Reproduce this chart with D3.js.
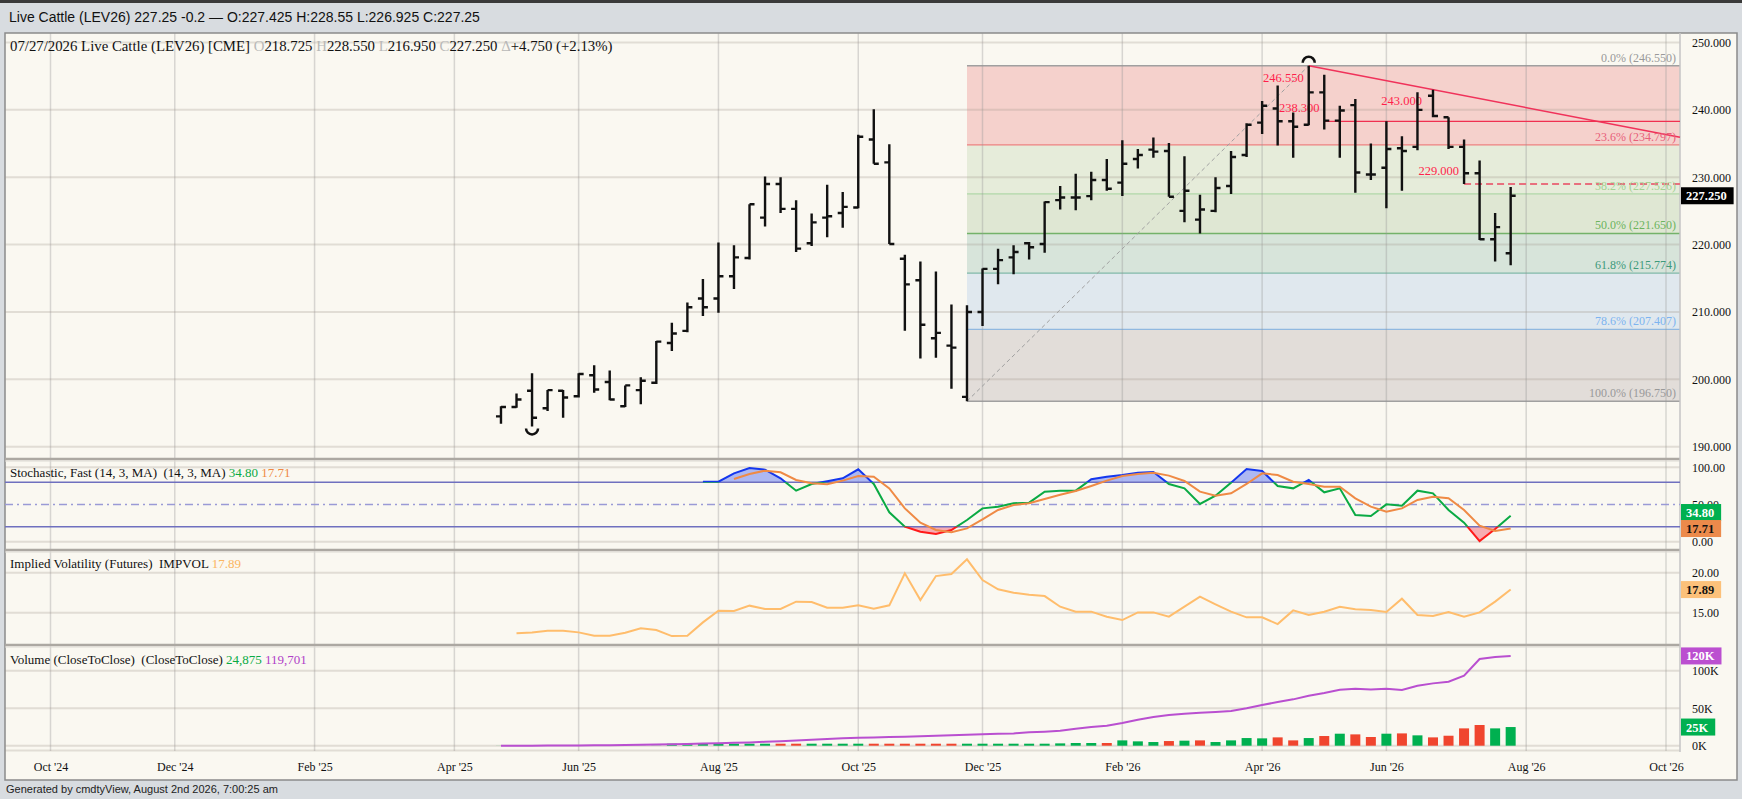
<!DOCTYPE html>
<html>
<head>
<meta charset="utf-8">
<script src="https://cdn.jsdelivr.net/npm/d3@7"></script>
<style>
  body { margin: 0; background: #d8dce0; }
  svg { display: block; }
</style>
</head>
<body>
<div id="chart"></div>
<script>
// ---- data (weekly bars) ----
var weeks = ["2025-04-28","2025-05-05","2025-05-12","2025-05-19","2025-05-26","2025-06-02","2025-06-09","2025-06-16","2025-06-23","2025-06-30",
  "2025-07-07","2025-07-14","2025-07-21","2025-07-28","2025-08-04","2025-08-11","2025-08-18","2025-08-25","2025-09-01","2025-09-08",
  "2025-09-15","2025-09-22","2025-09-29","2025-10-06","2025-10-13","2025-10-20","2025-10-27","2025-11-03","2025-11-10","2025-11-17",
  "2025-11-24","2025-12-01","2025-12-08","2025-12-15","2025-12-22","2025-12-29","2026-01-05","2026-01-12","2026-01-19","2026-01-26",
  "2026-02-02","2026-02-09","2026-02-16","2026-02-23","2026-03-02","2026-03-09","2026-03-16","2026-03-23","2026-03-30","2026-04-06",
  "2026-04-13","2026-04-20","2026-04-27","2026-05-04","2026-05-11","2026-05-18","2026-05-25","2026-06-01","2026-06-08","2026-06-15",
  "2026-06-22","2026-06-29","2026-07-06","2026-07-13","2026-07-20","2026-07-27"];

var opens = [194.5,195.9,198.3,195.7,198.3,197.5,200.6,199.6,196.0,198.4,
  199.5,205.4,207.2,212.0,212.0,215.3,218.0,224.0,229.0,225.3,
  220.2,224.0,224.7,225.5,235.6,232.2,217.9,214.7,206.1,205.0,
  197.4,210.0,216.4,218.1,220.2,220.1,226.6,227.0,227.2,229.6,
  229.2,232.7,234.1,233.9,225.0,223.7,225.0,228.7,233.3,238.1,
  240.2,238.3,237.8,242.6,238.4,240.7,230.4,231.4,234.3,234.5,
  242.1,238.9,234.5,230.6,220.8,218.725];
var highs = [196.0,197.9,200.9,198.4,198.4,200.9,202.1,201.3,199.1,200.3,
  205.7,208.4,211.4,214.9,220.3,219.9,226.0,230.1,230.0,226.6,
  224.6,228.9,227.8,236.3,240.1,234.9,218.5,217.5,216.0,211.1,
  211.0,216.45,219.4,219.9,220.4,226.4,228.7,230.5,230.8,232.7,
  235.5,234.2,235.9,235.1,233.1,227.4,230.0,233.9,238.0,241.3,
  243.6,239.6,246.55,245.2,240.6,241.6,235.0,238.3,236.1,242.6,
  243.0,238.9,235.6,232.5,224.7,228.55];
var lows = [193.4,195.8,193.0,195.3,194.3,197.3,198.0,196.9,195.9,196.3,
  199.3,204.2,207.0,209.4,209.9,213.4,217.8,222.7,224.7,218.9,
  219.8,221.1,222.5,225.4,232.0,220.1,207.2,203.1,203.2,198.6,
  196.75,207.9,214.1,215.6,217.8,218.8,225.2,225.1,226.6,228.0,
  227.2,231.3,232.9,227.1,223.3,221.65,224.8,227.5,233.0,236.4,
  234.7,232.9,237.7,237.1,232.9,227.7,229.6,225.4,228.0,234.0,
  238.9,234.2,229.0,220.7,217.5,216.95];
var closes = [195.9,197.0,194.3,198.4,197.3,200.8,198.5,197.0,199.1,199.8,
  205.6,206.8,210.7,210.7,215.3,218.1,226.0,229.0,225.3,219.4,
  223.3,224.2,225.6,236.0,232.0,220.1,214.1,208.1,206.9,204.7,
  210.0,216.4,217.7,218.9,219.6,226.3,227.0,227.0,229.6,228.3,
  232.0,233.3,233.8,227.1,228.0,225.2,228.4,233.0,237.8,240.6,
  238.3,237.5,242.6,238.4,239.9,230.7,230.4,234.2,233.9,240.0,
  239.1,234.5,230.6,220.8,222.6,227.25];

// Stochastic fast %K / %D (null before the indicator starts)
var stochK = [null,null,null,null,null,null,null,null,null,null,
  null,null,null,80.7,80.7,91.9,99.1,96.9,85.2,68.6,
  77.6,81.2,85.2,97.3,77.6,39.5,20.2,13.5,10.3,15.7,
  29.1,44.8,47.1,51.6,52.5,67.3,68.6,68.6,83.9,87.4,
  89.7,92.8,93.7,77.6,71.7,50.7,61.9,79.4,97.8,95.1,
  74.9,71.7,83.0,66.4,71.7,35.9,34.5,50.2,48.4,68.6,
  65.0,42.6,25.6,0.9,17.0,34.8];
var stochD = [null,null,null,null,null,null,null,null,null,null,
  null,null,null,null,null,84.3,91.0,95.5,93.3,83.0,
  78.5,77.1,82.1,88.3,87.4,71.7,44.8,25.6,15.7,12.6,
  17.9,30.0,42.6,49.3,51.6,57.4,63.2,68.2,74.9,82.1,
  88.3,91.0,92.8,88.8,81.6,67.3,61.9,65.0,77.6,91.9,
  89.7,80.7,77.6,74.0,74.0,58.3,47.1,40.4,44.8,56.1,
  60.5,58.3,42.6,21.5,14.3,17.71];

// Implied volatility
var impVol = [null,12.42,12.54,12.75,12.75,12.54,12.13,12.13,12.5,13.04,
  12.83,12.08,12.13,13.79,15.25,15.21,15.88,15.46,15.46,16.38,
  16.33,15.63,15.63,15.92,15.5,15.92,19.92,16.58,19.58,19.83,
  21.67,19.08,17.92,17.5,17.25,17.08,15.75,15.13,15.13,14.5,
  14.08,15.04,15.04,14.5,15.75,17.0,16.04,15.13,14.42,14.42,
  13.58,15.29,14.71,15.13,15.75,15.42,15.33,15.08,16.75,14.71,
  14.58,15.08,14.5,15.04,16.38,17.89];

// Volume and open interest (thousands)
var volumeK = [0.1,0.1,0.1,0.1,0.1,0.1,0.1,0.1,0.1,0.1,
  0.2,0.4,0.4,0.4,0.4,0.4,0.4,0.4,0.6,0.6,
  0.6,0.6,0.6,1.8,1.0,1.0,1.0,1.0,1.0,1.0,
  2.2,1.0,1.0,0.9,0.9,2.2,3.1,3.6,3.6,3.6,
  7.1,5.8,4.9,6.2,6.7,7.1,4.9,7.1,10.2,9.8,
  11.1,7.1,10.2,12.9,16.0,15.1,11.6,16.0,16.4,13.8,
  11.1,13.3,23.1,27.6,23.1,24.875];
var openIntK = [0,0.1,0.1,0.2,0.3,0.4,0.5,0.7,0.9,1.2,
  1.6,2.0,2.4,2.8,3.3,3.8,4.4,5.2,6.0,7.0,
  8.0,9.0,9.8,10.5,11.0,11.5,12.0,12.5,13.2,13.9,
  14.6,15.2,16.0,16.4,17.8,18.7,20.0,22.7,24.9,26.7,
  30.2,34.7,38.2,40.9,42.7,44.0,44.9,46.2,49.8,54.2,
  58.2,61.8,66.7,70.2,74.7,76.0,75.1,76.0,74.2,80.0,
  83.1,85.3,93.3,115.6,118.2,119.701];

var fibPcts = ["0.0%","23.6%","38.2%","50.0%","61.8%","78.6%","100.0%"];
var fibLevels = [246.550,234.797,227.526,221.650,215.774,207.407,196.750];

var tickWeeks = ["2024-10-07","2024-12-02","2025-02-03","2025-04-07","2025-06-02","2025-08-04","2025-10-06",
  "2025-12-01","2026-02-02","2026-04-06","2026-06-01","2026-08-03","2026-10-05"];
var priceTicks = [190,200,210,220,230,240,250];
var stochTicks = [0,50,100];
var ivTicks = [15,20];
var volTicks = [0,50,100];

// ---- layout ----
var W = 1742, H = 799;
var plotL = 5, plotR = 1680, frameR = 1737;
var frameT = 33, frameB = 780;
var serif = "'Liberation Serif', 'Times New Roman', serif";
var sans = "'Liberation Sans', Arial, sans-serif";

var parse = d3.timeParse("%Y-%m-%d");
var dates = weeks.map(parse);
var tickDates = tickWeeks.map(parse);

var x = d3.scaleTime()
  .domain([parse("2024-10-07"), parse("2026-10-05")])
  .range([50.5, 1666]);

var yPrice = d3.scaleLinear().domain([190, 250]).range([446.7, 42.5]);
var yStoch = d3.scaleLinear().domain([0, 100]).range([541.7, 467.3]);
var yIV = d3.scaleLinear().domain([15, 20]).range([612.7, 572.7]);
var yVol = d3.scaleLinear().domain([0, 100]).range([745.7, 670.7]);

var svg = d3.select("#chart").append("svg")
  .attr("width", W).attr("height", H);

// bands
svg.append("rect").attr("width", W).attr("height", H).attr("fill", "#d8dce0");
svg.append("rect").attr("width", W).attr("height", 3).attr("fill", "#3a3a3a");
svg.append("rect")
  .attr("x", plotL).attr("y", frameT)
  .attr("width", frameR - plotL).attr("height", frameB - frameT)
  .attr("fill", "#faf8f1").attr("stroke", "#8a8a8a").attr("stroke-width", 1.5);

// header + footer
svg.append("text").attr("x", 9).attr("y", 22)
  .attr("font-family", sans).attr("font-size", 14).attr("fill", "#111")
  .text("Live Cattle (LEV26) 227.25 -0.2 \u2014 O:227.425 H:228.55 L:226.925 C:227.25");
svg.append("text").attr("x", 6).attr("y", 793)
  .attr("font-family", sans).attr("font-size", 11).attr("fill", "#222")
  .text("Generated by cmdtyView, August 2nd 2026, 7:00:25 am");

// ---- fib zones (behind grid) ----
var fibFill = ["#f5d1cc","#e6ecda","#dfe7d3","#d7e4da","#e0e8ee","#e2ddd9"];
var fibLine = ["#a0a0a0","#ee8080","#b0d8a8","#74b26a","#80b8a8","#90b8e0","#a0a0a0"];
var fibText = ["#999999","#e8607a","#a3d293","#6cb45e","#3e9a7a","#7db4f0","#999999"];
var fibX0 = x(dates[30]);

var fib = svg.append("g");
fibLevels.slice(0, -1).forEach(function(lv, k) {
  fib.append("rect")
    .attr("x", fibX0).attr("y", yPrice(lv))
    .attr("width", plotR - fibX0)
    .attr("height", yPrice(fibLevels[k + 1]) - yPrice(lv))
    .attr("fill", fibFill[k]);
});

// ---- grid ----
var grid = svg.append("g");
grid.selectAll(".vg").data(tickDates).enter().append("line")
  .attr("x1", function(d) { return x(d); }).attr("x2", function(d) { return x(d); })
  .attr("y1", frameT).attr("y2", 751)
  .attr("stroke", "rgba(150,150,150,0.35)").attr("stroke-width", 1.5);

function hgrid(vals, scale) {
  grid.selectAll(null).data(vals).enter().append("line")
    .attr("x1", plotL).attr("x2", plotR)
    .attr("y1", function(d) { return scale(d); }).attr("y2", function(d) { return scale(d); })
    .attr("stroke", "rgba(160,150,140,0.28)").attr("stroke-width", 2);
}
hgrid(priceTicks, yPrice);
hgrid([0, 100], yStoch);
hgrid(ivTicks, yIV);
hgrid(volTicks, yVol);
grid.append("line").attr("x1", plotL).attr("x2", plotR).attr("y1", 750.5).attr("y2", 750.5)
  .attr("stroke", "rgba(160,150,140,0.28)").attr("stroke-width", 2);

// panel separators
[459, 550, 645].forEach(function(yy) {
  svg.append("line").attr("x1", plotL).attr("x2", plotR).attr("y1", yy).attr("y2", yy)
    .attr("stroke", "#aca8a2").attr("stroke-width", 2.5);
  svg.append("line").attr("x1", plotL).attr("x2", plotR).attr("y1", yy + 2).attr("y2", yy + 2)
    .attr("stroke", "#dcd9d3").attr("stroke-width", 1);
});
svg.append("line").attr("x1", plotR).attr("x2", plotR).attr("y1", frameT).attr("y2", 752)
  .attr("stroke", "#c4c4c4").attr("stroke-width", 1.5);

// fib lines + labels
fibLevels.forEach(function(lv, k) {
  fib.append("line")
    .attr("x1", fibX0).attr("x2", plotR)
    .attr("y1", yPrice(lv)).attr("y2", yPrice(lv))
    .attr("stroke", fibLine[k]).attr("stroke-width", 1.3);
});

// ---- price annotations ----
var ann = svg.append("g");
ann.append("line")
  .attr("x1", x(dates[30])).attr("y1", yPrice(lows[30]))
  .attr("x2", x(dates[52])).attr("y2", yPrice(highs[52]))
  .attr("stroke", "#a0a0a0").attr("stroke-width", 1).attr("stroke-dasharray", "4,3");

var tx0 = x(dates[52]), ty0 = yPrice(highs[52]);
var slope = (yPrice(highs[60]) - ty0) / (x(dates[60]) - tx0);
ann.append("line")
  .attr("x1", tx0).attr("y1", ty0)
  .attr("x2", plotR).attr("y2", ty0 + slope * (plotR - tx0))
  .attr("stroke", "#f0325a").attr("stroke-width", 1.5);

ann.append("line")
  .attr("x1", x(dates[53])).attr("x2", plotR)
  .attr("y1", yPrice(238.3)).attr("y2", yPrice(238.3))
  .attr("stroke", "#f03050").attr("stroke-width", 1.3);

ann.append("line")
  .attr("x1", x(dates[62])).attr("x2", plotR)
  .attr("y1", yPrice(lows[62])).attr("y2", yPrice(lows[62]))
  .attr("stroke", "#e8707e").attr("stroke-width", 2).attr("stroke-dasharray", "7,4");

fibLevels.forEach(function(lv, k) {
  ann.append("text")
    .attr("x", 1676).attr("y", yPrice(lv) - 4)
    .attr("text-anchor", "end")
    .attr("font-family", serif).attr("font-size", 12)
    .attr("fill", fibText[k])
    .text(fibPcts[k] + " (" + lv.toFixed(3) + ")");
});

function redLabel(xx, yy, anchor, txt) {
  ann.append("text").attr("x", xx).attr("y", yy)
    .attr("text-anchor", anchor)
    .attr("font-family", serif).attr("font-size", 12.5).attr("fill", "#ff1f4b")
    .text(txt);
}
redLabel(x(dates[52]) - 5, yPrice(highs[52]) + 16, "end", d3.format(".3f")(highs[52]));
redLabel(x(dates[60]) - 11, yPrice(highs[60]) + 15.5, "end", d3.format(".3f")(highs[60]));
redLabel(x(dates[51]) + 6, yPrice(238.3) - 9, "middle", "238.300");
redLabel(x(dates[62]) - 5, yPrice(lows[62]) - 8.5, "end", d3.format(".3f")(lows[62]));

// swing markers
ann.append("path")
  .attr("d", "M" + (tx0 - 6) + "," + (ty0 - 3) + " A6,6 0 0 1 " + (tx0 + 6) + "," + (ty0 - 3))
  .attr("fill", "none").attr("stroke", "#111").attr("stroke-width", 2.5);
var lx = x(dates[2]), ly = yPrice(lows[2]);
ann.append("path")
  .attr("d", "M" + (lx - 6) + "," + (ly + 2) + " A6,6 0 0 0 " + (lx + 6) + "," + (ly + 2))
  .attr("fill", "none").attr("stroke", "#111").attr("stroke-width", 2.5);

// ---- OHLC bars ----
svg.append("g").selectAll("path").data(dates).enter().append("path")
  .attr("d", function(d, i) {
    var cx = x(d);
    return "M" + cx + "," + yPrice(highs[i]) + "V" + yPrice(lows[i]) +
      "M" + (cx - 5) + "," + yPrice(opens[i]) + "H" + cx +
      "M" + cx + "," + yPrice(closes[i]) + "H" + (cx + 5);
  })
  .attr("fill", "none").attr("stroke", "#111").attr("stroke-width", 2.4);

// ---- stochastic ----
var defs = svg.append("defs");
function clipRect(id, y0, y1) {
  defs.append("clipPath").attr("id", id).append("rect")
    .attr("x", plotL).attr("y", y0).attr("width", plotR - plotL).attr("height", y1 - y0);
}
clipRect("above80", 460, yStoch(80));
clipRect("mid", yStoch(80), yStoch(20));
clipRect("below20", yStoch(20), 549);

var st = svg.append("g");
st.append("line").attr("x1", plotL).attr("x2", plotR).attr("y1", yStoch(50)).attr("y2", yStoch(50))
  .attr("stroke", "#9a9ad6").attr("stroke-width", 1.5).attr("stroke-dasharray", "8,4,2,4");

var kPts = dates.map(function(d, i) { return [d, stochK[i]]; }).filter(function(p) { return p[1] !== null; });
var dPts = dates.map(function(d, i) { return [d, stochD[i]]; }).filter(function(p) { return p[1] !== null; });

st.append("path").datum(kPts)
  .attr("clip-path", "url(#above80)")
  .attr("d", d3.area().x(function(p) { return x(p[0]); }).y0(yStoch(80)).y1(function(p) { return yStoch(p[1]); }))
  .attr("fill", "#9fadf2").attr("opacity", 0.85);
st.append("path").datum(kPts)
  .attr("clip-path", "url(#below20)")
  .attr("d", d3.area().x(function(p) { return x(p[0]); }).y0(yStoch(20)).y1(function(p) { return yStoch(p[1]); }))
  .attr("fill", "#f6a3ab").attr("opacity", 0.9);

[80, 20].forEach(function(v) {
  st.append("line").attr("x1", plotL).attr("x2", plotR).attr("y1", yStoch(v)).attr("y2", yStoch(v))
    .attr("stroke", "#6f70bf").attr("stroke-width", 1.4);
});

var kLine = d3.line().x(function(p) { return x(p[0]); }).y(function(p) { return yStoch(p[1]); });
[["above80", "#1437ee"], ["mid", "#0aaa44"], ["below20", "#ff1a1a"]].forEach(function(c) {
  st.append("path").datum(kPts).attr("clip-path", "url(#" + c[0] + ")")
    .attr("d", kLine).attr("fill", "none").attr("stroke", c[1]).attr("stroke-width", 2);
});
st.append("path").datum(dPts).attr("d", kLine)
  .attr("fill", "none").attr("stroke", "#ef8a45").attr("stroke-width", 2);

// ---- implied volatility ----
var ivPts = dates.map(function(d, i) { return [d, impVol[i]]; }).filter(function(p) { return p[1] !== null; });
svg.append("path").datum(ivPts)
  .attr("d", d3.line().x(function(p) { return x(p[0]); }).y(function(p) { return yIV(p[1]); }))
  .attr("fill", "none").attr("stroke", "#ffbd6c").attr("stroke-width", 2);

// ---- volume ----
function volH(v) {
  var h = yVol(0) - yVol(v);
  return v >= 0.3 ? Math.max(h, 2) : h;
}
svg.append("g").selectAll("rect").data(dates).enter().append("rect")
  .attr("x", function(d) { return x(d) - 5; })
  .attr("width", 10)
  .attr("y", function(d, i) { return yVol(0) - volH(volumeK[i]); })
  .attr("height", function(d, i) { return volH(volumeK[i]); })
  .attr("fill", function(d, i) {
    return (i > 0 && closes[i] < closes[i - 1]) ? "#f0452e" : "#00b050";
  });
svg.append("path").datum(dates)
  .attr("d", d3.line().x(function(d) { return x(d); }).y(function(d, i) { return yVol(openIntK[i]); }))
  .attr("fill", "none").attr("stroke", "#b94fd0").attr("stroke-width", 2);

// ---- axes ----
function rightAxis(scale, vals, fmt) {
  var g = svg.append("g").attr("transform", "translate(" + plotR + ",0)")
    .call(d3.axisRight(scale).tickValues(vals).tickSize(0).tickPadding(12).tickFormat(fmt));
  g.select(".domain").remove();
  g.selectAll("text").attr("font-family", serif).attr("font-size", 12).attr("fill", "#111");
}
rightAxis(yPrice, priceTicks, d3.format(".3f"));
rightAxis(yStoch, stochTicks, d3.format(".2f"));
rightAxis(yIV, ivTicks, d3.format(".2f"));
rightAxis(yVol, volTicks, function(v) { return v + "K"; });

var xa = svg.append("g").attr("transform", "translate(0,758)")
  .call(d3.axisBottom(x).tickValues(tickDates).tickSize(0).tickPadding(4).tickFormat(d3.timeFormat("%b '%y")));
xa.select(".domain").remove();
xa.selectAll("text").attr("font-family", serif).attr("font-size", 12).attr("fill", "#111");

// ---- value boxes ----
function valueBox(yc, txt, bg, fg) {
  var g = svg.append("g");
  var t = g.append("text").attr("x", plotR + 6).attr("y", yc + 4.5)
    .attr("font-family", serif).attr("font-size", 12.5).attr("font-weight", "bold")
    .attr("fill", fg).text(txt);
  var w = t.node().getComputedTextLength() + 12;
  g.insert("rect", "text").attr("x", plotR + 1).attr("y", yc - 8.5)
    .attr("width", w).attr("height", 17).attr("fill", bg);
}
var last = closes.length - 1;
valueBox(yPrice(closes[last]), d3.format(".3f")(closes[last]), "#000", "#fff");
var yD = yStoch(stochD[last]);
valueBox(Math.min(yStoch(stochK[last]), yD - 16), stochK[last].toFixed(2), "#00b050", "#fff");
valueBox(yD, stochD[last].toFixed(2), "#ec8a4b", "#111");
valueBox(yIV(impVol[last]), impVol[last].toFixed(2), "#fcc17a", "#111");
valueBox(yVol(openIntK[last]), Math.round(openIntK[last]) + "K", "#bb4fd0", "#fff");
valueBox(yVol(volumeK[last]), Math.round(volumeK[last]) + "K", "#00b050", "#fff");

// ---- panel titles ----
function title(yy, parts, size) {
  var t = svg.append("text").attr("x", 10).attr("y", yy)
    .attr("font-family", serif).attr("font-size", size || 13).attr("fill", "#111")
    .attr("xml:space", "preserve");
  parts.forEach(function(p) {
    t.append("tspan").attr("fill", p[1] || "#111").text(p[0]);
  });
}
var gray = "#b8b8b8";
title(51, [["07/27/2026 Live Cattle (LEV26) [CME] "], ["O", gray], ["218.725 "], ["H", gray], ["228.550 "],
  ["L", gray], ["216.950 "], ["C", gray], ["227.250 "], ["\u0394", gray], ["+4.750 (+2.13%)"]], 14.8);
title(477, [["Stochastic, Fast (14, 3, MA)  (14, 3, MA) "], [stochK[last].toFixed(2), "#0aaa44"], [" "],
  [stochD[last].toFixed(2), "#ef8a45"]]);
title(568, [["Implied Volatility (Futures)  IMPVOL "], [impVol[last].toFixed(2), "#fbb561"]]);
title(663.5, [["Volume (CloseToClose)  (CloseToClose) "], [d3.format(",")(Math.round(volumeK[last] * 1000)), "#0aaa44"],
  [" "], [d3.format(",")(Math.round(openIntK[last] * 1000)), "#b040c8"]]);
</script>
</body>
</html>
